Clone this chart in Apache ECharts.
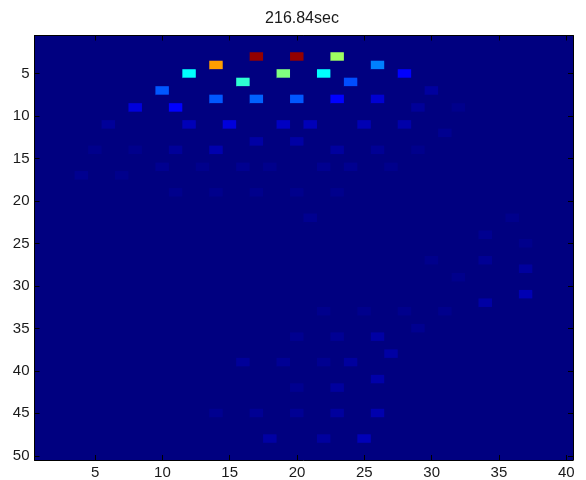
<!DOCTYPE html>
<html><head><meta charset="utf-8">
<style>html,body{margin:0;padding:0;background:#fff}#c{width:586px;height:480px}</style>
<script src="https://cdn.jsdelivr.net/npm/echarts@6/dist/echarts.min.js"></script>
</head><body><div id="c"></div>
<script>
const title = "216.84sec";
const columnCount = 40;
const rowCount = 50;
const tickStep = 5;
// [column, row, value] for cells above the background level
const brightCells = [
  [17,3,0.98],[20,3,0.98],[23,3,0.53],
  [14,4,0.72],[26,4,0.25],
  [12,5,0.375],[19,5,0.5],[22,5,0.375],[28,5,0.125],
  [16,6,0.42],[24,6,0.2],
  [10,7,0.21],
  [14,8,0.21],[17,8,0.22],[20,8,0.21],[23,8,0.125],[26,8,0.08]
];
const midCells = [
  [30,7,0.03],
  [8,9,0.09],[11,9,0.125],[29,9,0.025],[32,9,0.012],
  [6,11,0.025],[12,11,0.055],[15,11,0.09],[19,11,0.065],[21,11,0.055],[25,11,0.05],[28,11,0.04],
  [31,12,0.016],
  [17,13,0.035],[20,13,0.035],
  [5,14,0.012],[8,14,0.012],[11,14,0.025],[14,14,0.045],[23,14,0.03],[26,14,0.02],[29,14,0.012]
];
const faintCells = [
  [10,16,0.016],[13,16,0.012],[16,16,0.016],[18,16,0.012],[22,16,0.016],[24,16,0.016],[27,16,0.012],
  [4,17,0.016],[7,17,0.012],
  [11,19,0.012],[14,19,0.012],[17,19,0.012],[20,19,0.012],[23,19,0.012],
  [21,22,0.016],[36,22,0.012],
  [34,24,0.016],[37,25,0.012],
  [30,27,0.012],[34,27,0.02],[37,28,0.03],
  [32,29,0.012],[37,31,0.05],[34,32,0.035],
  [22,33,0.012],[25,33,0.012],[28,33,0.012],[31,33,0.012],
  [29,35,0.016],
  [20,36,0.016],[23,36,0.02],[26,36,0.035],
  [27,38,0.035],
  [16,39,0.025],[19,39,0.02],[22,39,0.016],[24,39,0.03],
  [26,41,0.04],
  [20,42,0.016],[23,42,0.03],
  [14,45,0.016],[17,45,0.02],[20,45,0.02],[23,45,0.03],[26,45,0.045],
  [18,48,0.035],[22,48,0.03],[25,48,0.055]
];
const jetColors = ['#000080','#0000ff','#0080ff','#00ffff','#80ff80','#ffff00','#ff8000','#ff0000','#800000'];

const cols = Array.from({length:columnCount},(_,i)=>String(i+1));
const rows = Array.from({length:rowCount},(_,i)=>String(i+1));
const lookup = new Map();
[...brightCells,...midCells,...faintCells].forEach(([c,r,v])=>lookup.set(c+'_'+r,v));
const data = [];
for(let c=1;c<=columnCount;c++)for(let r=1;r<=rowCount;r++){
  data.push([c-1,r-1,lookup.get(c+'_'+r)||0]);
}
const show = (i)=>(i+1)%tickStep===0;
const font = {fontFamily:'"Liberation Sans",Arial,sans-serif',fontSize:15,color:'#1a1a1a'};
const line = {show:true,onZero:false,lineStyle:{color:'#000',width:1}};
const tick = {show:true,inside:true,length:5,alignWithLabel:true,interval:show,lineStyle:{color:'#000',width:1}};
const chart = echarts.init(document.getElementById('c'),null,{renderer:'canvas'});
chart.setOption({
  animation:false,
  backgroundColor:'#fff',
  title:{text:title,left:297,top:6,textAlign:'center',textStyle:{fontFamily:font.fontFamily,fontSize:16,fontWeight:'normal',color:'#1a1a1a'}},
  grid:{left:34.5,top:35.5,width:538.5,height:424.5,backgroundColor:'#000080',show:true,borderWidth:0},
  xAxis:[
    {type:'category',z:10,data:cols,position:'bottom',axisLine:line,axisTick:tick,splitLine:{show:false},splitArea:{show:false},
     axisLabel:{...font,interval:show,margin:5}},
    {type:'category',z:10,data:cols,position:'top',axisLine:line,axisTick:tick,axisLabel:{show:false},splitLine:{show:false},splitArea:{show:false}}
  ],
  yAxis:[
    {type:'category',z:10,data:rows,inverse:true,position:'left',axisLine:line,axisTick:tick,splitLine:{show:false},splitArea:{show:false},
     axisLabel:{...font,interval:show,margin:5}},
    {type:'category',z:10,data:rows,inverse:true,position:'right',axisLine:line,axisTick:tick,axisLabel:{show:false},splitLine:{show:false},splitArea:{show:false}}
  ],
  visualMap:{show:false,min:0,max:1,dimension:2,inRange:{color:jetColors}},
  series:[{type:'heatmap',z:2,data:data,progressive:0,itemStyle:{borderWidth:0},emphasis:{disabled:true}}]
});
</script></body></html>
